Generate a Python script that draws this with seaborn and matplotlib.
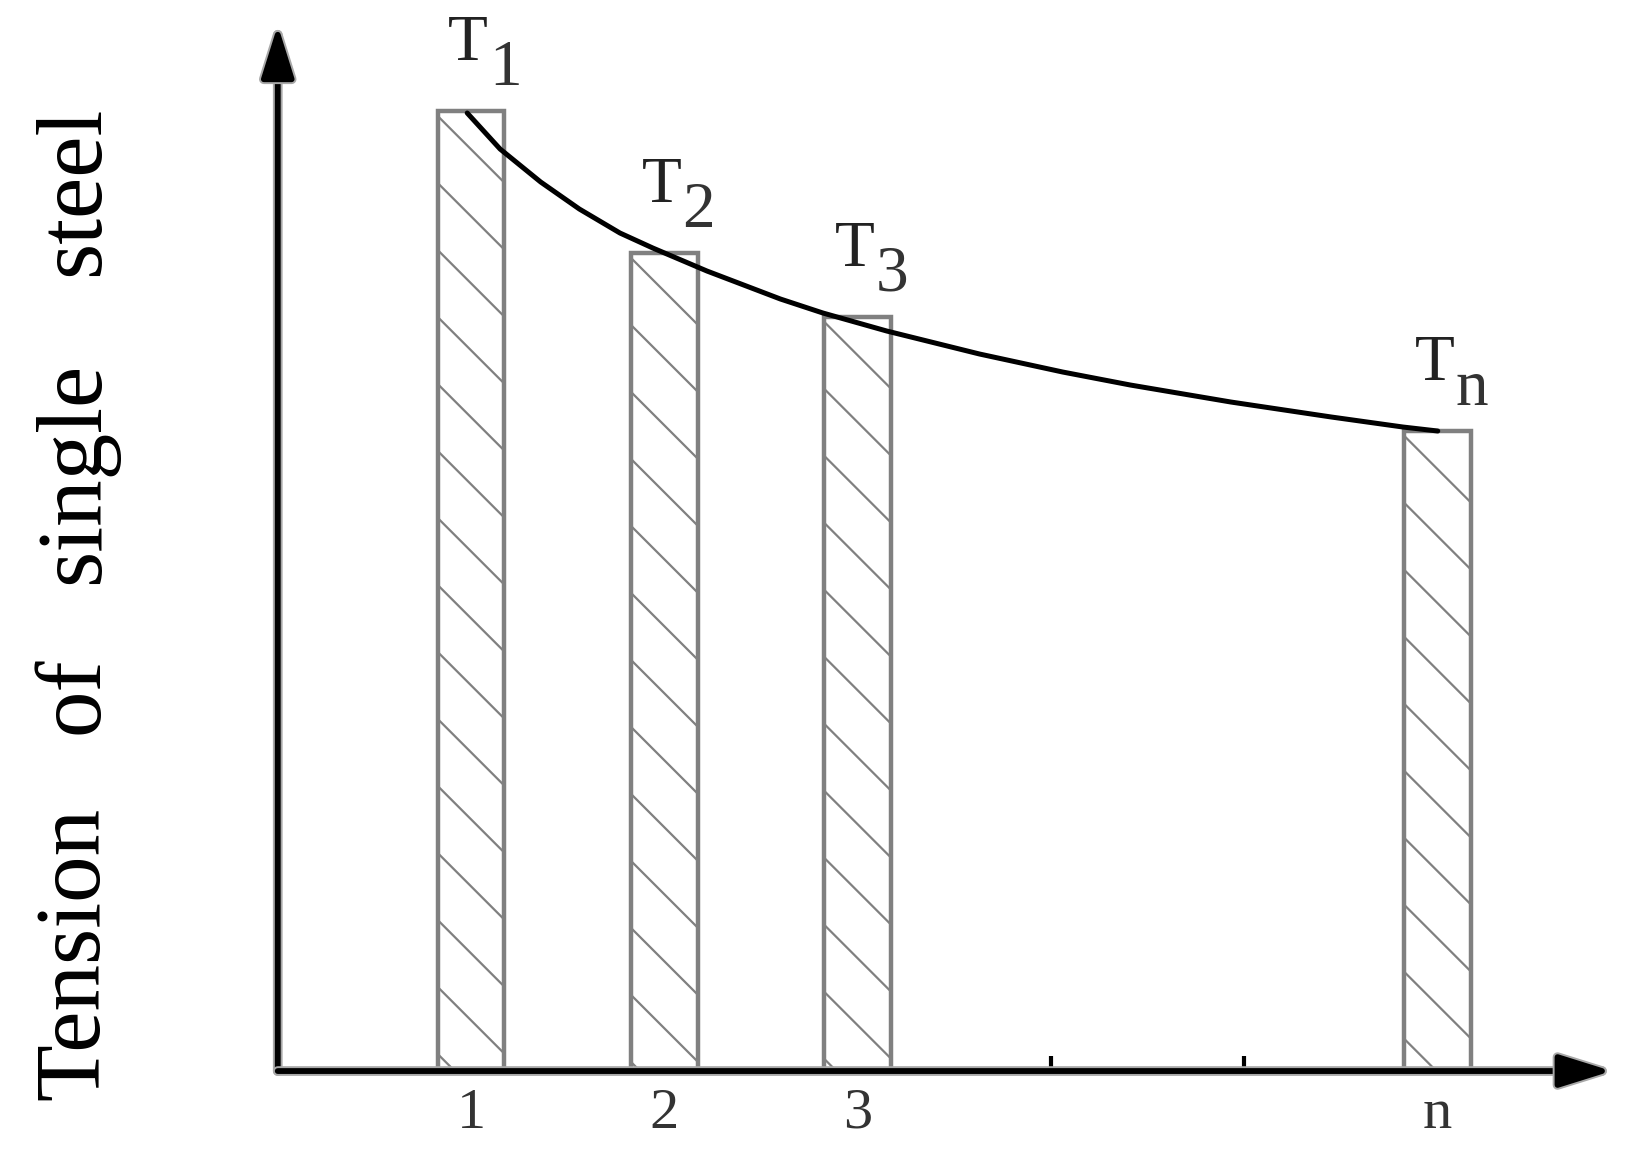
import numpy as np
import seaborn as sns
import matplotlib
matplotlib.use("Agg")
import matplotlib.pyplot as plt
import matplotlib.patheffects as pe
from matplotlib.lines import Line2D
from matplotlib.transforms import IdentityTransform

# values
bar_pos = [1, 2, 3, 6]
tension = [9.60, 8.18, 7.54, 6.40]
bar_names = ["1", "2", "3", "n"]
tick_pos = [1, 2, 3, 4, 5, 6]
tick_labels = ["1", "2", "3", "", "", "n"]

curve_x = [0.98, 1.15, 1.36, 1.56, 1.77, 1.94, 2.22, 2.60, 2.82, 3.15, 3.63,
           4.06, 4.41, 4.93, 5.45, 5.82, 6.00]
curve_y = [9.58, 9.22, 8.89, 8.62, 8.38, 8.23, 8.00, 7.72, 7.58, 7.40, 7.17,
           6.99, 6.86, 6.69, 6.54, 6.44, 6.40]

ylabel_words = ["Tension", "of", "single", "steel"]

sns.set_style("white")
plt.rcParams["font.family"] = ["Liberation Serif", "DejaVu Serif"]

fig = plt.figure(figsize=(16.3, 11.58), dpi=100)
ax = fig.add_axes([0.1704, 0.0751, 0.8184, 0.9033])

sns.barplot(x=bar_pos, y=tension, native_scale=True, width=0.345, errorbar=None,
            color="white", saturation=1, edgecolor="#808080", linewidth=3.2, ax=ax, zorder=2)
for p in ax.patches:
    p.set_facecolor("white")

sns.lineplot(x=curve_x, y=curve_y, sort=False, color="black", lw=3.6, ax=ax, zorder=5,
             solid_joinstyle="round", solid_capstyle="round")

XLIM = (0, 6.9)
YLIM = (0, 10.46)
ax.set_xlim(*XLIM)
ax.set_ylim(*YLIM)
ax.set_autoscale_on(False)

# hatch lines, drawn per bar in pixel space (45 deg, ~67 px apart)
for p in list(ax.patches):
    x0, y0 = ax.transData.transform((p.get_x(), 0))
    x1, y1 = ax.transData.transform((p.get_x() + p.get_width(), p.get_height()))
    w = x1 - x0
    c = y1 - 5
    while c > y0 - w:
        ln = Line2D([x0, x1], [c, c - w], transform=IdentityTransform(),
                    color="#808080", lw=1.6, zorder=3)
        ln.set_clip_path(p)
        ax.add_artist(ln)
        c -= 67

# T labels
for pos, val, name in zip(bar_pos, tension, bar_names):
    ax.annotate("T", xy=(pos, val), xytext=(-2, 37), textcoords="offset points",
                ha="center", va="baseline", fontsize=47, color="#222222")
    ax.annotate(name, xy=(pos, val), xytext=(13, 19), textcoords="offset points",
                ha="left", va="baseline", fontsize=47, color="#333333")

# axes with arrow heads
for sp in ax.spines.values():
    sp.set_visible(False)
arrow = dict(arrowstyle="-|>,head_length=1.6,head_width=0.5", lw=4.2, color="black",
             shrinkA=0, shrinkB=0, mutation_scale=20)
halo = [pe.Stroke(linewidth=7, foreground="#a8a8a8"), pe.Normal()]
for tip in [(0, 1), (1, 0)]:
    a = ax.annotate("", xy=tip, xytext=(0, 0), xycoords="axes fraction", arrowprops=arrow)
    a.arrow_patch.set_path_effects(halo)

ax.set_xticks(tick_pos)
ax.set_xticklabels(tick_labels)
ax.set_yticks([])
ax.tick_params(axis="x", direction="in", length=11, width=3, color="black",
               pad=12, labelsize=42, labelcolor="#333333", bottom=True)
ax.set_xlabel("")
ax.set_ylabel("")

# y label, words spread out along the axis
word_y = [0.177, 0.400, 0.592, 0.835]
for word, yy in zip(ylabel_words, word_y):
    fig.text(0.0601, yy, word, rotation=90, rotation_mode="anchor",
             ha="center", va="baseline", fontsize=67, color="black")

fig.savefig("out.png", dpi=100, facecolor="white")
